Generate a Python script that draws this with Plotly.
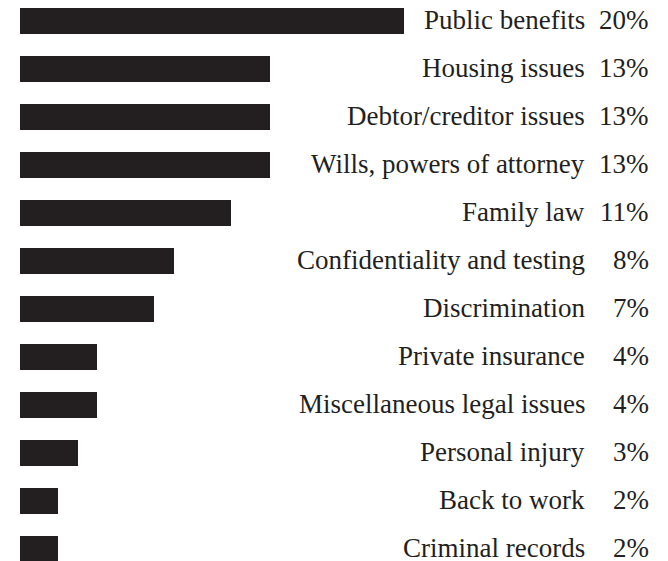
import plotly.graph_objects as go

categories = [
    "Public benefits",
    "Housing issues",
    "Debtor/creditor issues",
    "Wills, powers of attorney",
    "Family law",
    "Confidentiality and testing",
    "Discrimination",
    "Private insurance",
    "Miscellaneous legal issues",
    "Personal injury",
    "Back to work",
    "Criminal records",
]
values = [20, 13, 13, 13, 11, 8, 7, 4, 4, 3, 2, 2]
value_labels = [f"{v}%" for v in values]

INK = "#231f20"
FONT = "Liberation Serif"
FSIZE = 27
OFF = 8  # page body margin in the browser
W, H = 668 - OFF, 561 - OFF
L = 20 - OFF
PX_PER_UNIT = 19.2
XMAX = (W - L) / PX_PER_UNIT
ROW = 48
TOP_CENTER = 21 - OFF

fig = go.Figure()
fig.add_trace(go.Bar(
    x=values,
    y=list(range(len(categories))),
    orientation="h",
    marker=dict(color=INK, line=dict(width=0)),
    width=26 / ROW,
    hoverinfo="skip",
))

def xdata(px):
    return (px - OFF - L) / PX_PER_UNIT

annotations = []
for i, (cat, lab) in enumerate(zip(categories, value_labels)):
    annotations.append(dict(
        x=xdata(586), y=i, xref="x", yref="y", text=cat, showarrow=False,
        xanchor="right", yanchor="middle", yshift=1, borderpad=0,
        font=dict(family=FONT, size=FSIZE, color=INK),
    ))
    annotations.append(dict(
        x=xdata(650), y=i, xref="x", yref="y", text=lab, showarrow=False,
        xanchor="right", yanchor="middle", yshift=1, borderpad=0,
        font=dict(family=FONT, size=FSIZE, color=INK),
    ))

bottom_px = H - (TOP_CENTER + ROW * (len(categories) - 1))
fig.update_layout(
    width=W, height=H,
    margin=dict(l=L, r=0, t=0, b=0),
    paper_bgcolor="white", plot_bgcolor="white",
    showlegend=False,
    xaxis=dict(range=[0, XMAX], visible=False, fixedrange=True),
    yaxis=dict(range=[len(categories) - 1 + bottom_px / ROW, -TOP_CENTER / ROW],
               visible=False, fixedrange=True),
    annotations=annotations,
    bargap=0,
)

fig.write_html("out.html", config={"displayModeBar": False})
